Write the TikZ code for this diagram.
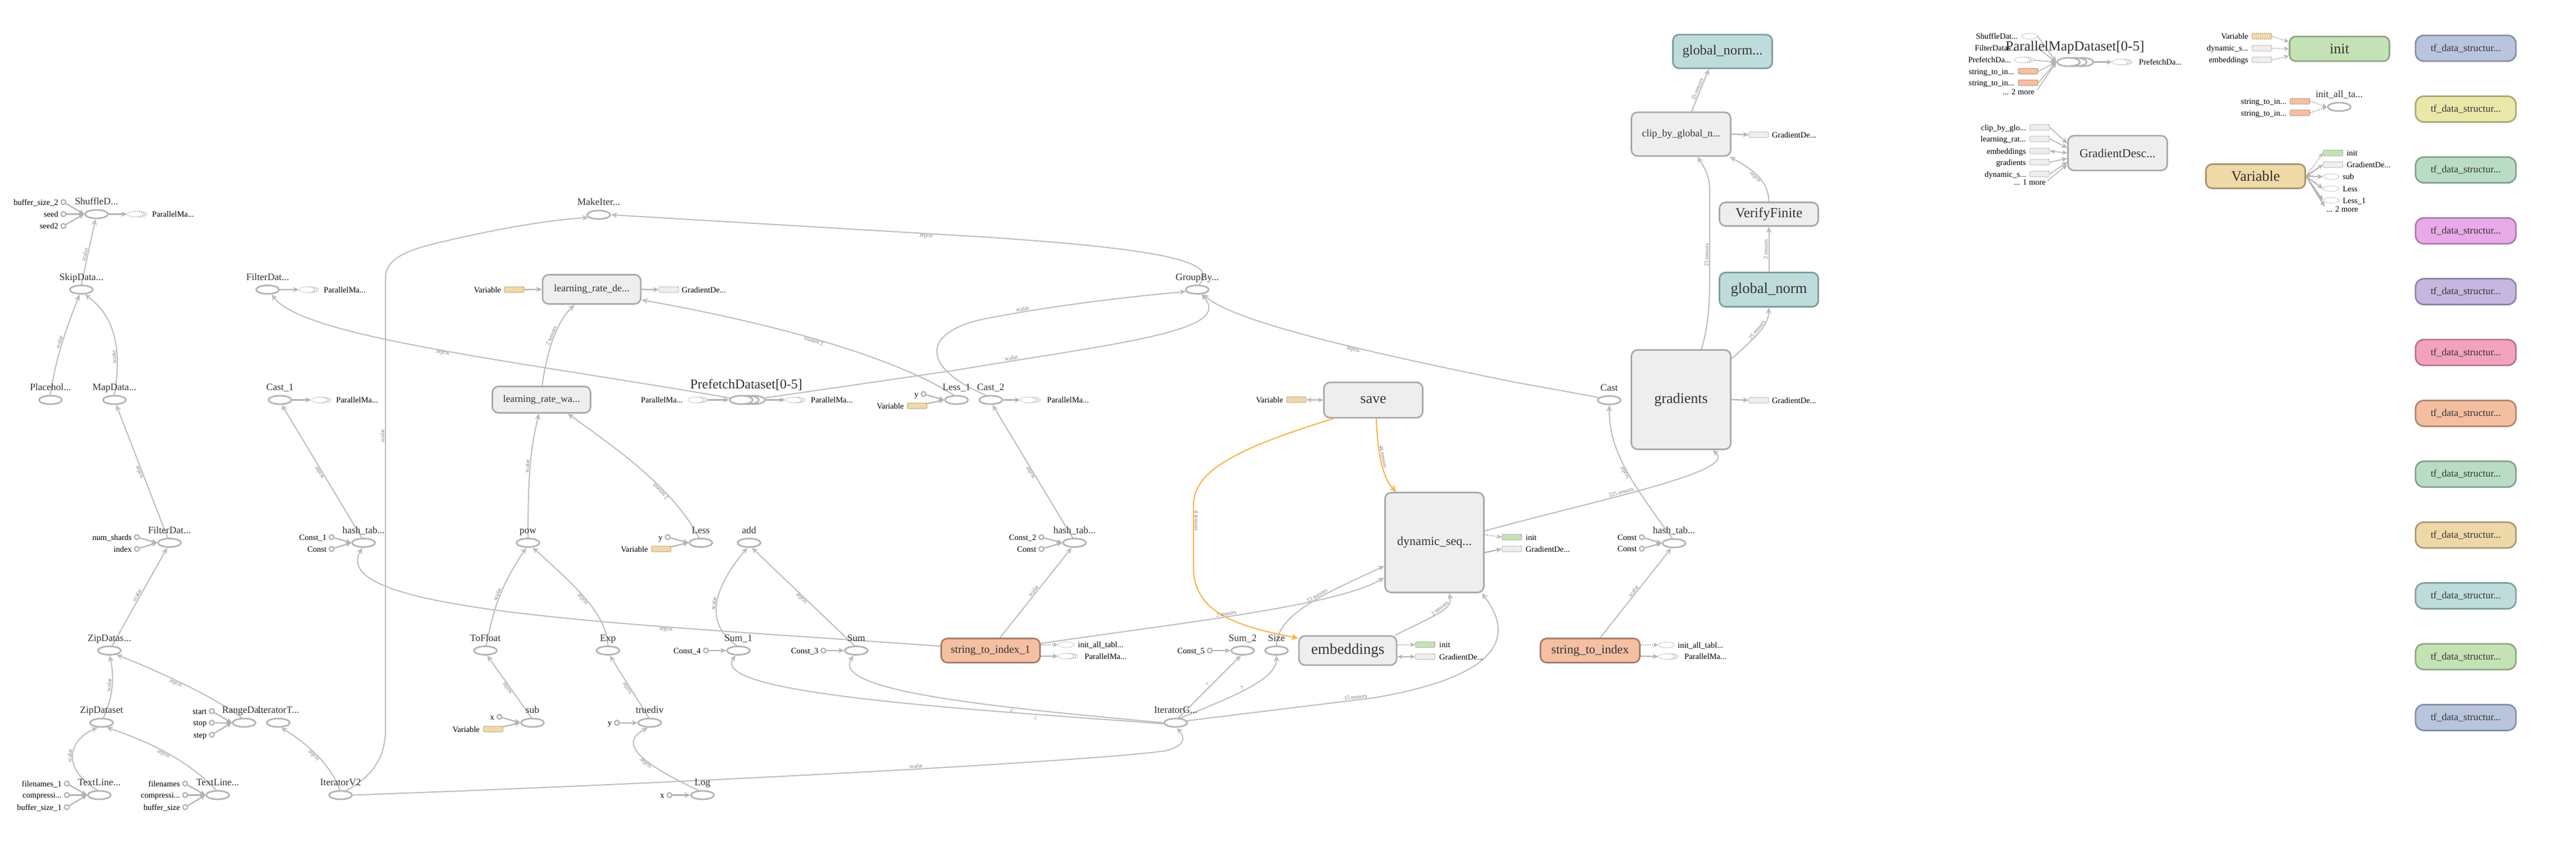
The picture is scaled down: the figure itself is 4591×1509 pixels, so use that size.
\documentclass[tikz,border=0pt]{standalone}
\usepackage{fontspec}
\setmainfont{Liberation Serif}
\usetikzlibrary{shapes.geometric,arrows.meta,calc}
\pgfdeclarelayer{bg}
\pgfdeclarelayer{paper}
\pgfsetlayers{paper,bg,main}
\definecolor{opc}{HTML}{B3B3B3}
\definecolor{edgec}{HTML}{BDBDBD}
\definecolor{boxc}{HTML}{A9A9A9}
\definecolor{boxf}{HTML}{EEEEEE}
\definecolor{serc}{HTML}{BBBBBB}
\definecolor{refc}{HTML}{AAAAAA}
\definecolor{txtc}{HTML}{333333}
\definecolor{elabc}{HTML}{7A7A7A}
\definecolor{tealf}{HTML}{BEDCDB}
\definecolor{tealb}{HTML}{7F9C9B}
\definecolor{salf}{HTML}{F4BFA3}
\definecolor{salb}{HTML}{A67C68}
\definecolor{tanf}{HTML}{F0D9A8}
\definecolor{tanb}{HTML}{A8926F}
\definecolor{grnf}{HTML}{C5E2B6}
\definecolor{grnb}{HTML}{8CA47F}
\definecolor{orc}{HTML}{FBB040}
\definecolor{tfaf}{HTML}{B9C4DD}\definecolor{tfab}{HTML}{878FA6}
\definecolor{tfbf}{HTML}{EAE8A8}\definecolor{tfbb}{HTML}{A9A775}
\definecolor{tfcf}{HTML}{B9DDC4}\definecolor{tfcb}{HTML}{869E8D}
\definecolor{tfdf}{HTML}{EAA9E9}\definecolor{tfdb}{HTML}{AB7AAB}
\definecolor{tfef}{HTML}{C6B7E0}\definecolor{tfeb}{HTML}{8F84A6}
\definecolor{tfff}{HTML}{F3A2BC}\definecolor{tffb}{HTML}{B47489}
\definecolor{tfgf}{HTML}{F4BEA0}\definecolor{tfgb}{HTML}{B08670}
\definecolor{tfif}{HTML}{EFD8A8}\definecolor{tfib}{HTML}{AA9574}
\definecolor{tfjf}{HTML}{BEDCDC}\definecolor{tfjb}{HTML}{869E9E}
\definecolor{tfkf}{HTML}{C4E2B4}\definecolor{tfkb}{HTML}{8DA585}
\tikzset{
  op/.style={ellipse, draw=opc, line width=2.8pt, fill=white, minimum width=41pt, minimum height=15pt, inner sep=0pt},
  oplab/.style={anchor=base, text=txtc, font=\fontsize{17.5}{18}\selectfont, inner sep=0pt},
  biglab/.style={anchor=base, text=txtc, inner sep=0pt},
  inp/.style={circle, draw=opc, line width=2.3pt, fill=white, minimum size=8.5pt, inner sep=0pt},
  inlab/.style={anchor=base east, text=black, font=\fontsize{14.5}{15}\selectfont, inner sep=0pt},
  inlabw/.style={anchor=base west, text=black, font=\fontsize{14.5}{15}\selectfont, inner sep=0pt},
  ser/.style={ellipse, draw=serc, dash pattern=on 2pt off 1.5pt, line width=1.3pt, fill=white, minimum width=28pt, minimum height=10pt, inner sep=0pt},
  refbox/.style={rectangle, dash pattern=on 2pt off 1.5pt, line width=1.3pt, minimum width=35pt, minimum height=10pt, inner sep=0pt, rounded corners=1.5pt},
  mbox/.style={rectangle, rounded corners=11pt, draw=boxc, line width=2.8pt, fill=boxf, inner sep=0pt, text=txtc},
  tfbox/.style={rectangle, rounded corners=15pt, line width=2.8pt, minimum width=179pt, minimum height=46pt, inner sep=0pt, text=txtc, font=\fontsize{17.8}{18}\selectfont},
  edg/.style={draw=edgec, line width=2pt, -{Stealth[length=11pt,width=10pt]}},
  oedg/.style={draw=orc, line width=2pt, -{Stealth[length=12pt,width=11pt]}},
  ie/.style={draw=opc, line width=2.2pt, -{Stealth[length=10pt,width=9pt]}},
  tie/.style={draw=opc, line width=1.5pt, -{Stealth[length=10pt,width=9pt]}},
  dbl/.style={draw=opc, line width=2.2pt, {Stealth[length=9pt,width=8pt]}-{Stealth[length=9pt,width=8pt]}},
  dotarr/.style={draw=opc, line width=2pt, dash pattern=on 2pt off 2pt, -{Stealth[length=9pt,width=8pt]}},
  elab/.style={font=\fontsize{10}{10}\selectfont, text=elabc, sloped, allow upside down, above, inner sep=1pt},
}
\newcommand\mkOP[4]{\node[op] (#1) at (#2,#3) {}; \node[oplab] (#1-l) at (#2,#3-17) {#4};}
\newcommand\mkIN[4]{\node[inp] (#1) at (#2,#3) {}; \node[inlab] (#1-l) at (#2-9,#3+5) {#4};}
\newcommand\mkSER[3]{\node[ser] (#1-c) at (#2+7,#3) {}; \node[ser] (#1-b) at (#2+3.5,#3) {}; \node[ser] (#1) at (#2,#3) {};}
\newcommand\mkREF[5]{\node[refbox, fill=#4, draw=#5] (#1) at (#2,#3) {};}
\newcommand\mkLR[4]{\node[inlab] (#1) at (#2,#3) {#4};}
\newcommand\mkLW[4]{\node[inlabw] (#1) at (#2,#3) {#4};}
\begin{document}
\begin{tikzpicture}[x=1pt,y=-1pt]
\useasboundingbox (0,0) rectangle (4591,1509);
\begin{pgfonlayer}{paper}
\fill[white] (0,0) rectangle (4591,1509);
\end{pgfonlayer}
% ---------------- left cluster
\mkOP{shuf}{172}{381.5}{ShuffleD...}
\mkIN{bsa}{113}{360}{buffer\_size\_2}
\mkIN{seeda}{113}{381.5}{seed}
\mkIN{seedb}{113}{402.6}{seed2}
\mkSER{shufo}{241}{381.5}
\mkLW{shufo-l}{271}{386.5}{ParallelMa...}
\mkOP{skip}{145}{516}{SkipData...}
\mkOP{plac}{90}{712.5}{Placehol...}
\mkOP{mapd}{204}{712.5}{MapData...}
\mkOP{filt}{477}{516}{FilterDat...}
\mkSER{filto}{547}{516}
\mkLW{filto-l}{577}{521}{ParallelMa...}
\mkOP{castA}{499}{712.5}{Cast\_1}
\mkSER{castAo}{569}{712.5}
\mkLW{castAo-l}{599}{717.5}{ParallelMa...}
\mkOP{filtB}{302}{967}{FilterDat...}
\mkIN{nsh}{244}{957}{num\_shards}
\mkIN{idx}{244}{978}{index}
\mkOP{hashL}{648}{967}{hash\_tab...}
\mkIN{cA}{591}{957}{Const\_1}
\mkIN{cB}{591}{978}{Const}
\mkOP{zipB}{195}{1159}{ZipDatas...}
\mkOP{zipA}{181}{1287.6}{ZipDataset}
\mkOP{range}{435}{1287.6}{RangeDa...}
\mkIN{rstart}{377.5}{1267}{start}
\mkIN{rstop}{377.5}{1287.6}{stop}
\mkIN{rstep}{377.5}{1309}{step}
\mkOP{itt}{496}{1287.6}{IteratorT...}
\mkOP{tlA}{177}{1416.5}{TextLine...}
\mkIN{fnA}{119}{1396}{filenames\_1}
\mkIN{cmA}{119}{1416.5}{compressi...}
\mkIN{bsA}{119}{1438}{buffer\_size\_1}
\mkOP{tlB}{388}{1416.5}{TextLine...}
\mkIN{fnB}{330}{1396}{filenames}
\mkIN{cmB}{330}{1416.5}{compressi...}
\mkIN{bsB}{330}{1438}{buffer\_size}
\mkOP{itv}{607}{1416.5}{IteratorV2}
% ---------------- middle
\mkOP{mkit}{1067}{382.7}{MakeIter...}
\node[mbox, minimum width=175pt, minimum height=52pt, font=\fontsize{18}{18}\selectfont] (lrde) at (1054.5,515.5) {learning\_rate\_de...};
\mkREF{vrA}{916.5}{516}{tanf}{tanb}
\mkLR{vrA-l}{893}{521}{Variable}
\mkREF{gdA}{1192}{516}{boxf}{refc}
\mkLW{gdA-l}{1215}{521}{GradientDe...}
\node[mbox, minimum width=175pt, minimum height=47pt, font=\fontsize{17.8}{18}\selectfont] (lrwa) at (965,712) {learning\_rate\_wa...};
\node[op] (pfC) at (1343,712.5) {};
\node[op] (pfB) at (1332,712.5) {};
\node[op] (pf) at (1321,712.5) {};
\node[biglab, font=\fontsize{24}{24}\selectfont] (pf-l) at (1330,692.5) {PrefetchDataset[0-5]};
\mkSER{pfi}{1240}{712.5}
\mkLR{pfi-l}{1217}{717.5}{ParallelMa...}
\mkSER{pfo}{1414}{712.5}
\mkLW{pfo-l}{1445}{717.5}{ParallelMa...}
\mkOP{lessA}{1704.7}{712.5}{Less\_1}
\mkIN{lyA}{1646}{702}{y}
\mkREF{lvA}{1634.5}{723}{tanf}{tanb}
\mkLR{lvA-l}{1611}{728}{Variable}
\mkOP{castB}{1765.7}{712.5}{Cast\_2}
\mkSER{castBo}{1833}{712.5}
\mkLW{castBo-l}{1866}{717.5}{ParallelMa...}
\mkOP{grp}{2133.7}{516}{GroupBy...}
\node[mbox, minimum width=176pt, minimum height=63pt, font=\fontsize{26}{26}\selectfont] (save) at (2447.5,712.7) {save};
\mkREF{vsA}{2310.5}{712}{tanf}{tanb}
\mkLR{vsA-l}{2287}{717}{Variable}
\mkOP{pow}{941}{967}{pow}
\mkOP{less}{1249}{967}{Less}
\mkIN{lyB}{1190}{957}{y}
\mkREF{lvB}{1178.5}{978}{tanf}{tanb}
\mkLR{lvB-l}{1155}{983}{Variable}
\mkOP{add}{1335}{967}{add}
\mkOP{tofl}{865}{1159}{ToFloat}
\mkOP{exp}{1083.5}{1159}{Exp}
\mkOP{sumA}{1316}{1159}{Sum\_1}
\mkIN{cFour}{1258}{1159}{Const\_4}
\mkOP{sumB}{1526}{1159}{Sum}
\mkIN{cThree}{1467.5}{1159}{Const\_3}
\mkOP{sub}{949}{1287.6}{sub}
\mkIN{sx}{890}{1277}{x}
\mkREF{svr}{879}{1299}{tanf}{tanb}
\mkLR{svr-l}{855}{1304}{Variable}
\mkOP{tdiv}{1158}{1287.6}{truediv}
\mkIN{ty}{1099.5}{1287.6}{y}
\mkOP{log}{1252}{1416.5}{Log}
\mkIN{lx}{1193}{1416.5}{x}
\mkOP{hashM}{1915}{967}{hash\_tab...}
\mkIN{cTwo}{1856}{957}{Const\_2}
\mkIN{cC}{1856}{978}{Const}
\node[mbox, fill=salf, draw=salb, minimum width=176pt, minimum height=43pt, font=\fontsize{19.5}{20}\selectfont] (stiA) at (1765.5,1159) {string\_to\_index\_1};
\node[ser] (stiAia) at (1900,1148.5) {};
\mkLW{stiAia-l}{1921}{1153.5}{init\_all\_tabl...}
\mkSER{stiApm}{1900}{1169}
\mkLW{stiApm-l}{1933}{1174}{ParallelMa...}
\mkOP{sumC}{2214.7}{1159}{Sum\_2}
\mkIN{cFive}{2156}{1159}{Const\_5}
\mkOP{size}{2275}{1159}{Size}
\node[mbox, minimum width=174pt, minimum height=52pt, font=\fontsize{27}{27}\selectfont] (emb) at (2402,1159) {embeddings};
\mkREF{embi}{2540}{1148.5}{grnf}{grnb}
\mkLW{embi-l}{2565}{1153.5}{init}
\mkREF{embg}{2540}{1170}{boxf}{refc}
\mkLW{embg-l}{2565}{1175}{GradientDe...}
\node[mbox, minimum width=176pt, minimum height=178pt, font=\fontsize{22}{22}\selectfont] (dyn) at (2556.5,966.5) {dynamic\_seq...};
\mkREF{dyni}{2694.5}{957}{grnf}{grnb}
\mkLW{dyni-l}{2719}{962}{init}
\mkREF{dyng}{2694.5}{978}{boxf}{refc}
\mkLW{dyng-l}{2719}{983}{GradientDe...}
\mkOP{itg}{2095.4}{1287.6}{IteratorG...}
% ---------------- right
\node[mbox, minimum width=177pt, minimum height=177pt, font=\fontsize{26}{26}\selectfont] (grad) at (2996,712) {gradients};
\mkREF{gradg}{3134.5}{713}{boxf}{refc}
\mkLW{gradg-l}{3158}{718}{GradientDe...}
\mkOP{cast}{2868}{713}{Cast}
\mkOP{hashR}{2983.5}{967.8}{hash\_tab...}
\mkIN{cD}{2926}{957}{Const}
\mkIN{cE}{2926}{977.5}{Const}
\node[mbox, fill=salf, draw=salb, minimum width=177pt, minimum height=43pt, font=\fontsize{22}{22}\selectfont] (stiB) at (2834,1159) {string\_to\_index};
\node[ser] (stiBia) at (2970,1149) {};
\mkLW{stiBia-l}{2990}{1154}{init\_all\_tabl...}
\mkSER{stiBpm}{2970}{1169.6}
\mkLW{stiBpm-l}{3002}{1174.6}{ParallelMa...}
\node[mbox, fill=tealf, draw=tealb, minimum width=176pt, minimum height=61pt, font=\fontsize{26.6}{27}\selectfont] (gnorm) at (3152.5,516) {global\_norm};
\node[mbox, minimum width=176pt, minimum height=42pt, font=\fontsize{24.7}{25}\selectfont] (vf) at (3152.5,381.6) {VerifyFinite};
\node[mbox, minimum width=177pt, minimum height=78pt, font=\fontsize{18}{18}\selectfont] (clip) at (2996,239) {clip\_by\_global\_n...};
\mkREF{clipg}{3134.5}{240}{boxf}{refc}
\mkLW{clipg-l}{3158}{245}{GradientDe...}
\node[mbox, fill=tealf, draw=tealb, minimum width=177pt, minimum height=60pt, font=\fontsize{24.4}{25}\selectfont] (gnB) at (3070,91.7) {global\_norm...};
% ---------------- far right
\node[op] (pmdC) at (3710.5,110.5) {};
\node[op] (pmdB) at (3698.5,110.5) {};
\node[op] (pmd) at (3686.5,110.5) {};
\node[ser] (pin1) at (3617,64.6) {};
\mkLR{pin1-l}{3596}{69.6}{ShuffleDat...}
\node[ser] (pin2) at (3617,86) {};
\mkLR{pin2-l}{3595}{91}{FilterDatas...}
\node[biglab, font=\fontsize{25}{25}\selectfont] (pmd-l) at (3698,90.5) {ParallelMapDataset[0-5]};
\mkSER{pin3}{3604}{106.6}
\mkLR{pin3-l}{3584}{111.6}{PrefetchDa...}
\mkREF{pin4}{3614.5}{127}{salf}{salb}
\mkLR{pin4-l}{3590}{132}{string\_to\_in...}
\mkREF{pin5}{3614.5}{147.5}{salf}{salb}
\mkLR{pin5-l}{3590}{152.5}{string\_to\_in...}
\mkLR{pmore}{3626}{168}{... 2 more}
\coordinate (pmorec) at (3631,160);
\mkSER{pmdo}{3779}{110.5}
\mkLW{pmdo-l}{3812}{115.5}{PrefetchDa...}
\node[mbox, minimum width=177pt, minimum height=62pt, font=\fontsize{21.7}{22}\selectfont] (gds) at (3774,272.7) {GradientDesc...};
\mkREF{gA}{3635}{227}{boxf}{refc}
\mkLR{gA-l}{3611}{232}{clip\_by\_glo...}
\mkREF{gB}{3635}{247.5}{boxf}{refc}
\mkLR{gB-l}{3611}{252.5}{learning\_rat...}
\mkREF{gC}{3635}{269}{boxf}{refc}
\mkLR{gC-l}{3611}{274}{embeddings}
\mkREF{gD}{3635}{289}{boxf}{refc}
\mkLR{gD-l}{3611}{294}{gradients}
\mkREF{gE}{3635}{310}{boxf}{refc}
\mkLR{gE-l}{3611}{315}{dynamic\_s...}
\mkLR{gmore}{3646}{329}{... 1 more}
\coordinate (gmorec) at (3649,322);
\node[mbox, fill=grnf, draw=grnb, minimum width=178pt, minimum height=44pt, font=\fontsize{26}{26}\selectfont] (init) at (4169.5,87) {init};
\mkREF{iA}{4031}{64.6}{tanf}{tanb}
\mkLR{iA-l}{4007}{69.6}{Variable}
\mkREF{iB}{4031}{86}{boxf}{refc}
\mkLR{iB-l}{4007}{91}{dynamic\_s...}
\mkREF{iC}{4031}{106.6}{boxf}{refc}
\mkLR{iC-l}{4007}{111.6}{embeddings}
\mkOP{iall}{4169}{190.4}{init\_all\_ta...}
\mkREF{iaA}{4099}{180.4}{salf}{salb}
\mkLR{iaA-l}{4075}{185.4}{string\_to\_in...}
\mkREF{iaB}{4099}{201}{salf}{salb}
\mkLR{iaB-l}{4075}{206}{string\_to\_in...}
\node[mbox, fill=tanf, draw=tanb, minimum width=177pt, minimum height=43pt, font=\fontsize{26}{26}\selectfont] (varB) at (4020,314) {Variable};
\mkREF{voA}{4158}{272.7}{grnf}{grnb}
\mkLW{voA-l}{4182}{277.7}{init}
\mkREF{voB}{4158}{293.3}{boxf}{refc}
\mkLW{voB-l}{4182}{298.3}{GradientDe...}
\node[ser] (voC) at (4154.5,314.8) {};
\mkLW{voC-l}{4175}{319.8}{sub}
\node[ser] (voD) at (4154.5,336) {};
\mkLW{voD-l}{4175}{341}{Less}
\node[ser] (voE) at (4154.5,357) {};
\mkLW{voE-l}{4175}{362}{Less\_1}
\mkLW{vmore}{4146}{377}{... 2 more}
\coordinate (vmorec) at (4143,368);
\foreach \i/\f/\b in {0/tfaf/tfab,1/tfbf/tfbb,2/tfcf/tfcb,3/tfdf/tfdb,4/tfef/tfeb,5/tfff/tffb,6/tfgf/tfgb,7/tfcf/tfcb,8/tfif/tfib,9/tfjf/tfjb,10/tfkf/tfkb,11/tfaf/tfab}{
  \node[tfbox, fill=\f, draw=\b] (tf\i) at (4394.5,{86+108.4*\i}) {tf\_data\_structur...};
}
% ---------------- edges
\begin{pgfonlayer}{bg}
% left
\draw[edg] (skip.north) -- (shuf.258) node[elab,pos=.45]{scalar};
\draw[edg] (plac.north) .. controls (98,640) and (120,580) .. (skip.250) node[elab,pos=.5]{scalar};
\draw[edg] (mapd.north) .. controls (214,640) and (214,570) .. (skip.305) node[elab,pos=.35]{scalar};
\draw[edg] (filtB.110) -- (mapd.290) node[elab,pos=.5]{scalar};
\draw[edg] (zipB.60) -- (filtB.245) node[elab,pos=.5]{scalar};
\draw[edg] (zipA.70) .. controls (203,1240) and (203,1200) .. (zipB.272) node[elab,pos=.5]{scalar};
\draw[edg] (range.115) .. controls (380,1240) and (280,1195) .. (zipB.330) node[elab,pos=.55]{scalar};
\draw[edg] (tlA.110) .. controls (110,1370) and (120,1320) .. (zipA.230) node[elab,pos=.5]{scalar};
\draw[edg] (tlB.105) .. controls (330,1350) and (260,1320) .. (zipA.318) node[elab,pos=.5]{scalar};
\draw[edg] (itv.100) .. controls (590,1360) and (540,1320) .. (itt.300) node[elab,pos=.5]{scalar};
\foreach \n in {bsa,seeda,seedb} \draw[ie] (\n) -- (shuf.west);
\draw[ie] (shuf.east) -- (shufo.west);
\draw[ie] (filt.east) -- (filto.west);
\draw[ie] (castA.east) -- (castAo.west);
\foreach \n in {nsh,idx} \draw[ie] (\n) -- (filtB.west);
\foreach \n in {cA,cB} \draw[ie] (\n) -- (hashL.west);
\foreach \n in {rstart,rstop,rstep} \draw[ie] (\n) -- (range.west);
\foreach \n in {fnA,cmA,bsA} \draw[ie] (\n) -- (tlA.west);
\foreach \n in {fnB,cmB,bsB} \draw[ie] (\n) -- (tlB.west);
\draw[edg] (hashL.110) -- (castA.290) node[elab,pos=.5]{scalar};
\draw[edg] (itv.40) .. controls (662,1385) and (687,1350) .. (687,1300) -- (687,495) node[elab,pos=.65]{scalar} .. controls (687,455) and (740,442) .. (800,428) .. controls (900,405) and (980,392) .. (mkit.195);
\draw[edg] (itv.east) .. controls (1300,1392) and (1950,1355) .. (2075,1338) node[elab,pos=.55]{scalar} .. controls (2110,1330) and (2114,1316) .. (itg.282);
% middle
\draw[edg] (pf.170) .. controls (900,640) and (540,600) .. (filt.310) node[elab,pos=.47]{scalar};
\draw[edg] (pfC.10) -- (1700,660) .. controls (2000,610) and (2200,590) .. (grp.312) node[elab,pos=.12]{scalar};
\draw[edg] (castB.135) .. controls (1640,655) and (1640,590) .. (1760,567) .. controls (1900,540) and (2050,525) .. (grp.190) node[elab,pos=.15]{scalar};
\draw[edg] (cast.165) -- (2700,681) .. controls (2450,630) and (2200,575) .. (grp.322) node[elab,pos=.4]{scalar};
\draw[edg] (grp.70) .. controls (2172,470) and (2100,445) .. (1750,422) -- (mkit.east) node[elab,pos=.15]{scalar};
\draw[edg] (lessA.120) .. controls (1600,640) and (1400,580) .. (lrde.348) node[elab,pos=.55]{2 tensors};
\draw[edg] (lrwa.87) .. controls (975,620) and (995,570) .. (lrde.222) node[elab,pos=.5]{2 tensors};
\draw[edg] (pow.north) .. controls (941,850) and (945,800) .. (lrwa.260) node[elab,pos=.5]{scalar};
\draw[edg] (less.110) .. controls (1200,870) and (1100,800) .. (lrwa.332) node[elab,pos=.35]{2 tensors};
\draw[ie] (vrA) -- (lrde.west);
\draw[ie] (lrde.east) -- (gdA.west);
\draw[ie] (pfi.east) -- (pf.west);
\draw[ie] (pfC.east) -- (pfo.west);
\foreach \n in {lyA,lvA} \draw[ie] (\n) -- (lessA.west);
\draw[ie] (castB.east) -- (castBo.west);
\draw[dbl] (vsA) -- (save.west);
\draw[oedg] (save.205) .. controls (2200,800) and (2127,840) .. (2127,900) -- (2127,1010) node[elab,pos=.25]{4 tensors} .. controls (2127,1090) and (2200,1115) .. (emb.166);
\draw[oedg] (save.279) .. controls (2455,800) and (2462,850) .. (dyn.127) node[elab,pos=.45]{46 tensors};
\draw[edg] (tofl.80) .. controls (880,1080) and (895,1040) .. (pow.250) node[elab,pos=.5]{scalar};
\draw[edg] (exp.north) .. controls (1080,1090) and (1020,1040) .. (pow.315) node[elab,pos=.5]{scalar};
\draw[edg] (sub.100) -- (tofl.290) node[elab,pos=.5]{scalar};
\draw[edg] (tdiv.100) -- (exp.290) node[elab,pos=.5]{scalar};
\draw[edg] (log.130) .. controls (1120,1350) and (1110,1320) .. (tdiv.250) node[elab,pos=.35]{scalar};
\foreach \n in {sx,svr} \draw[ie] (\n) -- (sub.west);
\draw[ie] (ty) -- (tdiv.west);
\draw[ie] (lx) -- (log.west);
\foreach \n in {lyB,lvB} \draw[ie] (\n) -- (less.west);
\draw[edg] (sumA.110) .. controls (1255,1110) and (1270,1050) .. (add.250) node[elab,pos=.5]{scalar};
\draw[edg] (sumB.110) -- (add.300) node[elab,pos=.5]{scalar};
\draw[ie] (cFour) -- (sumA.west);
\draw[ie] (cThree) -- (sumB.west);
\draw[ie] (cFive) -- (sumC.west);
\draw[edg] (itg.185) .. controls (1700,1262) and (1262,1235) .. (sumA.240) node[elab,pos=.2]{?};
\draw[edg] (itg.180) .. controls (1750,1258) and (1480,1230) .. (sumB.240) node[elab,pos=.3]{?};
\draw[edg] (itg.60) -- (sumC.250) node[elab,pos=.5]{?};
\draw[edg] (itg.45) .. controls (2200,1240) and (2275,1210) .. (size.south) node[elab,pos=.45]{?};
\draw[edg] (itg.10) -- (2450,1243) node[elab,pos=.9]{15 tensors} .. controls (2700,1200) and (2690,1120) .. (dyn.313);
\draw[edg] (size.north) .. controls (2275,1090) and (2380,1050) .. (dyn.205) node[elab,pos=.55]{13 tensors};
\draw[edg] (stiA.8) .. controls (2100,1110) and (2380,1080) .. (dyn.215) node[elab,pos=.45]{2 tensors};
\draw[edg] (emb.18) .. controls (2560,1095) and (2590,1085) .. (dyn.286) node[elab,pos=.55]{2 tensors};
\draw[dotarr] ($(stiA.east)+(0,-10)$) -- (stiAia.west);
\draw[ie] ($(stiA.east)+(0,10)$) -- (stiApm.west);
\draw[edg] (stiA.54) -- (hashM.240) node[elab,pos=.5]{scalar};
\draw[edg] (stiA.175) .. controls (1100,1110) and (580,1090) .. (hashL.255) node[elab,pos=.3]{scalar};
\draw[edg] (hashM.110) -- (castB.290) node[elab,pos=.5]{scalar};
\foreach \n in {cTwo,cC} \draw[ie] (\n) -- (hashM.west);
\draw[dotarr] ($(emb.east)+(0,-10)$) -- (embi.west);
\draw[dbl] ($(emb.east)+(0,11)$) -- (embg.west);
\draw[dotarr] ($(dyn.east)+(0,-14)$) -- (dyni.west);
\draw[ie] ($(dyn.east)+(0,18)$) -- (dyng.west);
% right
\draw[edg] (dyn.13) .. controls (2850,890) and (3100,840) .. (grad.302) node[elab,pos=.4]{225 tensors};
\draw[ie] (grad.east) -- (gradg.west);
\draw[edg] (hashR.110) .. controls (2900,850) and (2868,800) .. (cast.south) node[elab,pos=.45]{scalar};
\draw[edg] (stiB.52) -- (hashR.240) node[elab,pos=.5]{scalar};
\foreach \n in {cD,cE} \draw[ie] (\n) -- (hashR.west);
\draw[dotarr] ($(stiB.east)+(0,-10)$) -- (stiBia.west);
\draw[ie] ($(stiB.east)+(0,10)$) -- (stiBpm.west);
\draw[edg] (grad.39) .. controls (3130,600) and (3152,580) .. (gnorm.south) node[elab,pos=.5]{25 tensors};
\draw[edg] (grad.68) .. controls (3048,570) and (3047,520) .. (3047,470) -- (3047,340) node[elab,pos=.12]{25 tensors} .. controls (3047,310) and (3035,295) .. (clip.306);
\draw[edg] (gnorm.north) -- (vf.south) node[elab,pos=.5]{2 tensors};
\draw[edg] (vf.north) .. controls (3152,320) and (3120,300) .. (clip.335) node[elab,pos=.5]{scalar};
\draw[edg] (clip.65) -- (gnB.232) node[elab,pos=.5]{25 tensors};
\draw[ie] (clip.east) -- (clipg.west);
% far right
\foreach \n in {pin1,pin2,pin3,pin4,pin5} \draw[tie] (\n.east) -- (pmd.west);
\draw[tie] (pmorec) -- (pmd.west);
\draw[ie] (pmdC.east) -- (pmdo.west);
\draw[tie] (gA.east) -- (gds.169);
\draw[tie] (gB.east) -- (gds.174);
\draw[dbl, line width=1.5pt] (gC.east) -- (gds.180);
\draw[tie] (gD.east) -- (gds.186);
\draw[tie] (gE.east) -- (gds.190);
\draw[tie] (gmorec) -- (gds.193);
\draw[dotarr] (iA.east) -- (init.172);
\draw[dotarr] (iB.east) -- (init.west);
\draw[dotarr] (iC.east) -- (init.188);
\draw[dotarr] (iaA.east) -- (iall.west);
\draw[dotarr] (iaB.east) -- (iall.west);
\draw[dotarr] (varB.east) -- (voA.west);
\draw[dbl] (varB.east) -- (voB.west);
\draw[ie] (varB.east) -- (voC.west);
\draw[ie] (varB.east) -- (voD.west);
\draw[ie] (varB.east) -- (voE.west);
\draw[ie] (varB.east) -- (vmorec);
\end{pgfonlayer}
\end{tikzpicture}
\end{document}
